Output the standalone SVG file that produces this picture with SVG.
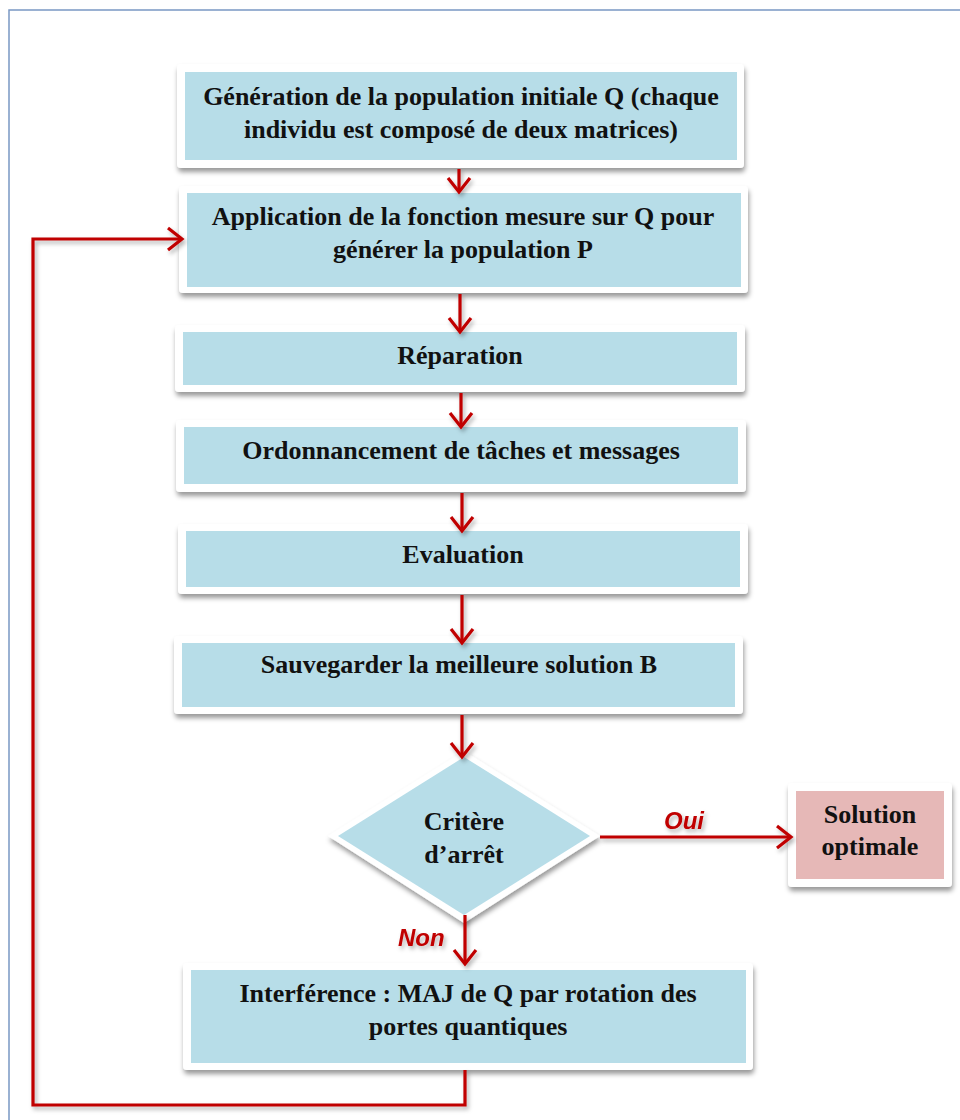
<svg xmlns="http://www.w3.org/2000/svg" width="960" height="1120" viewBox="0 0 960 1120">
  <defs>
    <filter id="shadow" x="-10%" y="-20%" width="120%" height="150%">
      <feDropShadow dx="1" dy="4" stdDeviation="2.5" flood-color="#000" flood-opacity="0.4"/>
    </filter>
    <filter id="lineShadow" x="-10%" y="-10%" width="120%" height="120%">
      <feDropShadow dx="2" dy="3" stdDeviation="2" flood-color="#000" flood-opacity="0.3"/>
    </filter>
    <marker id="chev" markerUnits="userSpaceOnUse" markerWidth="20" markerHeight="26" viewBox="0 0 20 26" refX="16" refY="13" orient="auto">
      <path d="M2,2 L16,13 L2,24" fill="none" stroke="#c00000" stroke-width="3.2" stroke-linejoin="miter"/>
    </marker>
    <style>
      .frame { fill: #ffffff; filter: url(#shadow); }
      .fill { fill: #b7dde8; }
      .pink { fill: #e6b8b7; }
      .label { font-family: "Liberation Serif", "Times New Roman", serif; font-weight: bold; font-size: 26px; fill: #111; text-anchor: middle; }
      .tag { font-family: "Liberation Sans", Arial, sans-serif; font-weight: bold; font-style: italic; font-size: 24px; fill: #c00000; }
      .conn { fill: none; stroke: #c00000; stroke-width: 3.2; }
    </style>
  </defs>

  <!-- page border -->
  <rect x="9" y="10" width="1000" height="1200" fill="none" stroke="#7a98c4" stroke-width="1.5"/>

  <g id="n1">
    <rect class="frame" x="177" y="64" width="567" height="104" rx="4"/>
    <rect class="fill" x="185" y="72" width="552" height="88"/>
    <text class="label" x="461" y="105">Génération de la population initiale Q (chaque</text>
    <text class="label" x="461" y="138">individu est composé de deux matrices)</text>
  </g>

  <g id="n2">
    <rect class="frame" x="179" y="186" width="569" height="107" rx="4"/>
    <rect class="fill" x="187" y="193" width="554" height="94"/>
    <text class="label" x="463" y="225">Application de la fonction mesure sur Q pour</text>
    <text class="label" x="463" y="258">générer la population P</text>
  </g>

  <g id="n3">
    <rect class="frame" x="175" y="325" width="570" height="67" rx="4"/>
    <rect class="fill" x="183" y="332" width="554" height="53"/>
    <text class="label" x="460" y="364">Réparation</text>
  </g>

  <g id="n4">
    <rect class="frame" x="176" y="420" width="570" height="72" rx="4"/>
    <rect class="fill" x="184" y="427" width="554" height="57"/>
    <text class="label" x="461" y="459">Ordonnancement de tâches et messages</text>
  </g>

  <g id="n5">
    <rect class="frame" x="178" y="524" width="570" height="70" rx="4"/>
    <rect class="fill" x="186" y="531" width="554" height="56"/>
    <text class="label" x="463" y="563">Evaluation</text>
  </g>

  <g id="n6">
    <rect class="frame" x="174" y="636" width="569" height="78" rx="4"/>
    <rect class="fill" x="182" y="643" width="553" height="64"/>
    <text class="label" x="459" y="673">Sauvegarder la meilleure solution B</text>
  </g>

  <g id="decision">
    <polygon class="frame" points="464,751 600,836 464,923 328,836"/>
    <polygon class="fill" points="464,757 590,836 464,915 338,836"/>
    <text class="label" x="464" y="830">Critère</text>
    <text class="label" x="464" y="863">d’arrêt</text>
  </g>

  <g id="solution">
    <rect class="frame" x="788" y="783" width="164" height="104" rx="4"/>
    <rect class="pink" x="796" y="791" width="148" height="88"/>
    <text class="label" x="870" y="823">Solution</text>
    <text class="label" x="870" y="855">optimale</text>
  </g>

  <g id="n7">
    <rect class="frame" x="183" y="963" width="570" height="107" rx="4"/>
    <rect class="fill" x="191" y="970" width="555" height="93"/>
    <text class="label" x="468" y="1002">Interférence : MAJ de Q par rotation des</text>
    <text class="label" x="468" y="1035">portes quantiques</text>
  </g>

  <!-- connectors, drawn over the boxes so the arrowheads stay visible -->
  <g id="connectors" filter="url(#lineShadow)">
    <line class="conn" x1="459" y1="169" x2="459" y2="192" marker-end="url(#chev)"/>
    <line class="conn" x1="460" y1="294" x2="460" y2="332" marker-end="url(#chev)"/>
    <line class="conn" x1="461" y1="393" x2="461" y2="427" marker-end="url(#chev)"/>
    <line class="conn" x1="462" y1="493" x2="462" y2="531" marker-end="url(#chev)"/>
    <line class="conn" x1="462" y1="595" x2="462" y2="643" marker-end="url(#chev)"/>
    <line class="conn" x1="462" y1="715" x2="462" y2="757" marker-end="url(#chev)"/>
    <line class="conn" x1="600" y1="837" x2="791" y2="837" marker-end="url(#chev)"/>
    <line class="conn" x1="465" y1="915" x2="465" y2="964" marker-end="url(#chev)"/>
    <polyline class="conn" points="465,1070 465,1105 33,1105 33,239 182,239" marker-end="url(#chev)"/>
    <text class="tag" x="664" y="829">Oui</text>
    <text class="tag" x="398" y="946">Non</text>
  </g>
</svg>
